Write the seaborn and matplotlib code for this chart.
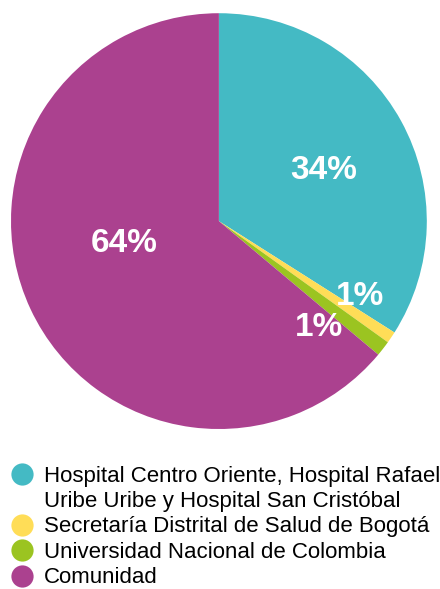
import matplotlib
matplotlib.use("Agg")
import matplotlib.pyplot as plt
from matplotlib.lines import Line2D
import numpy as np
import seaborn as sns

sns.set_style("white")
plt.rcParams["font.family"] = ["Liberation Sans", "DejaVu Sans"]

# data
categories = [
    "Hospital Centro Oriente, Hospital Rafael\nUribe Uribe y Hospital San Cristóbal",
    "Secretaría Distrital de Salud de Bogotá",
    "Universidad Nacional de Colombia",
    "Comunidad",
]
shares = [34.0, 0.9, 1.2, 63.9]
colors = ["#44BAC4", "#FFDD57", "#9BC421", "#AB418F"]

# label placement per slice: (radius fraction, angle offset in degrees)
label_pos = [(0.56, -3), (0.77, 6), (0.70, -9), (0.47, -12)]

fig = plt.figure(figsize=(4.4, 5.89), dpi=100)
ax = fig.add_axes([0.025, 0.2716, 0.945, 0.706])

wedges, _ = ax.pie(shares, colors=colors, startangle=90, counterclock=False,
                   radius=1.0, wedgeprops=dict(linewidth=0))
ax.set_xlim(-1, 1)
ax.set_ylim(-1, 1)
ax.set_aspect("equal")
ax.axis("off")

total = sum(shares)
for w, val, (r, off) in zip(wedges, shares, label_pos):
    mid = np.deg2rad((w.theta1 + w.theta2) / 2 + off)
    ax.text(r * np.cos(mid), r * np.sin(mid), f"{val / total * 100:.0f}%",
            color="white", fontsize=24, fontweight="bold",
            ha="center", va="center")

# legend: circle markers, wrapped first label split into two rows
handles, labels = [], []
for name, c in zip(categories, colors):
    lines = name.split("\n")
    for i, line in enumerate(lines):
        handles.append(Line2D([], [], marker="o", linestyle="none",
                              markersize=16 if i == 0 else 0,
                              markerfacecolor=c, markeredgewidth=0))
        labels.append(line)

fig.legend(handles, labels, loc="upper left",
           bbox_to_anchor=(6 / 440, 1 - 460 / 589), frameon=False,
           fontsize=16, handlelength=0.9, handletextpad=0.55,
           labelspacing=0.2, borderpad=0, borderaxespad=0.25,
           labelcolor="black")

fig.savefig("out.png", dpi=100)
